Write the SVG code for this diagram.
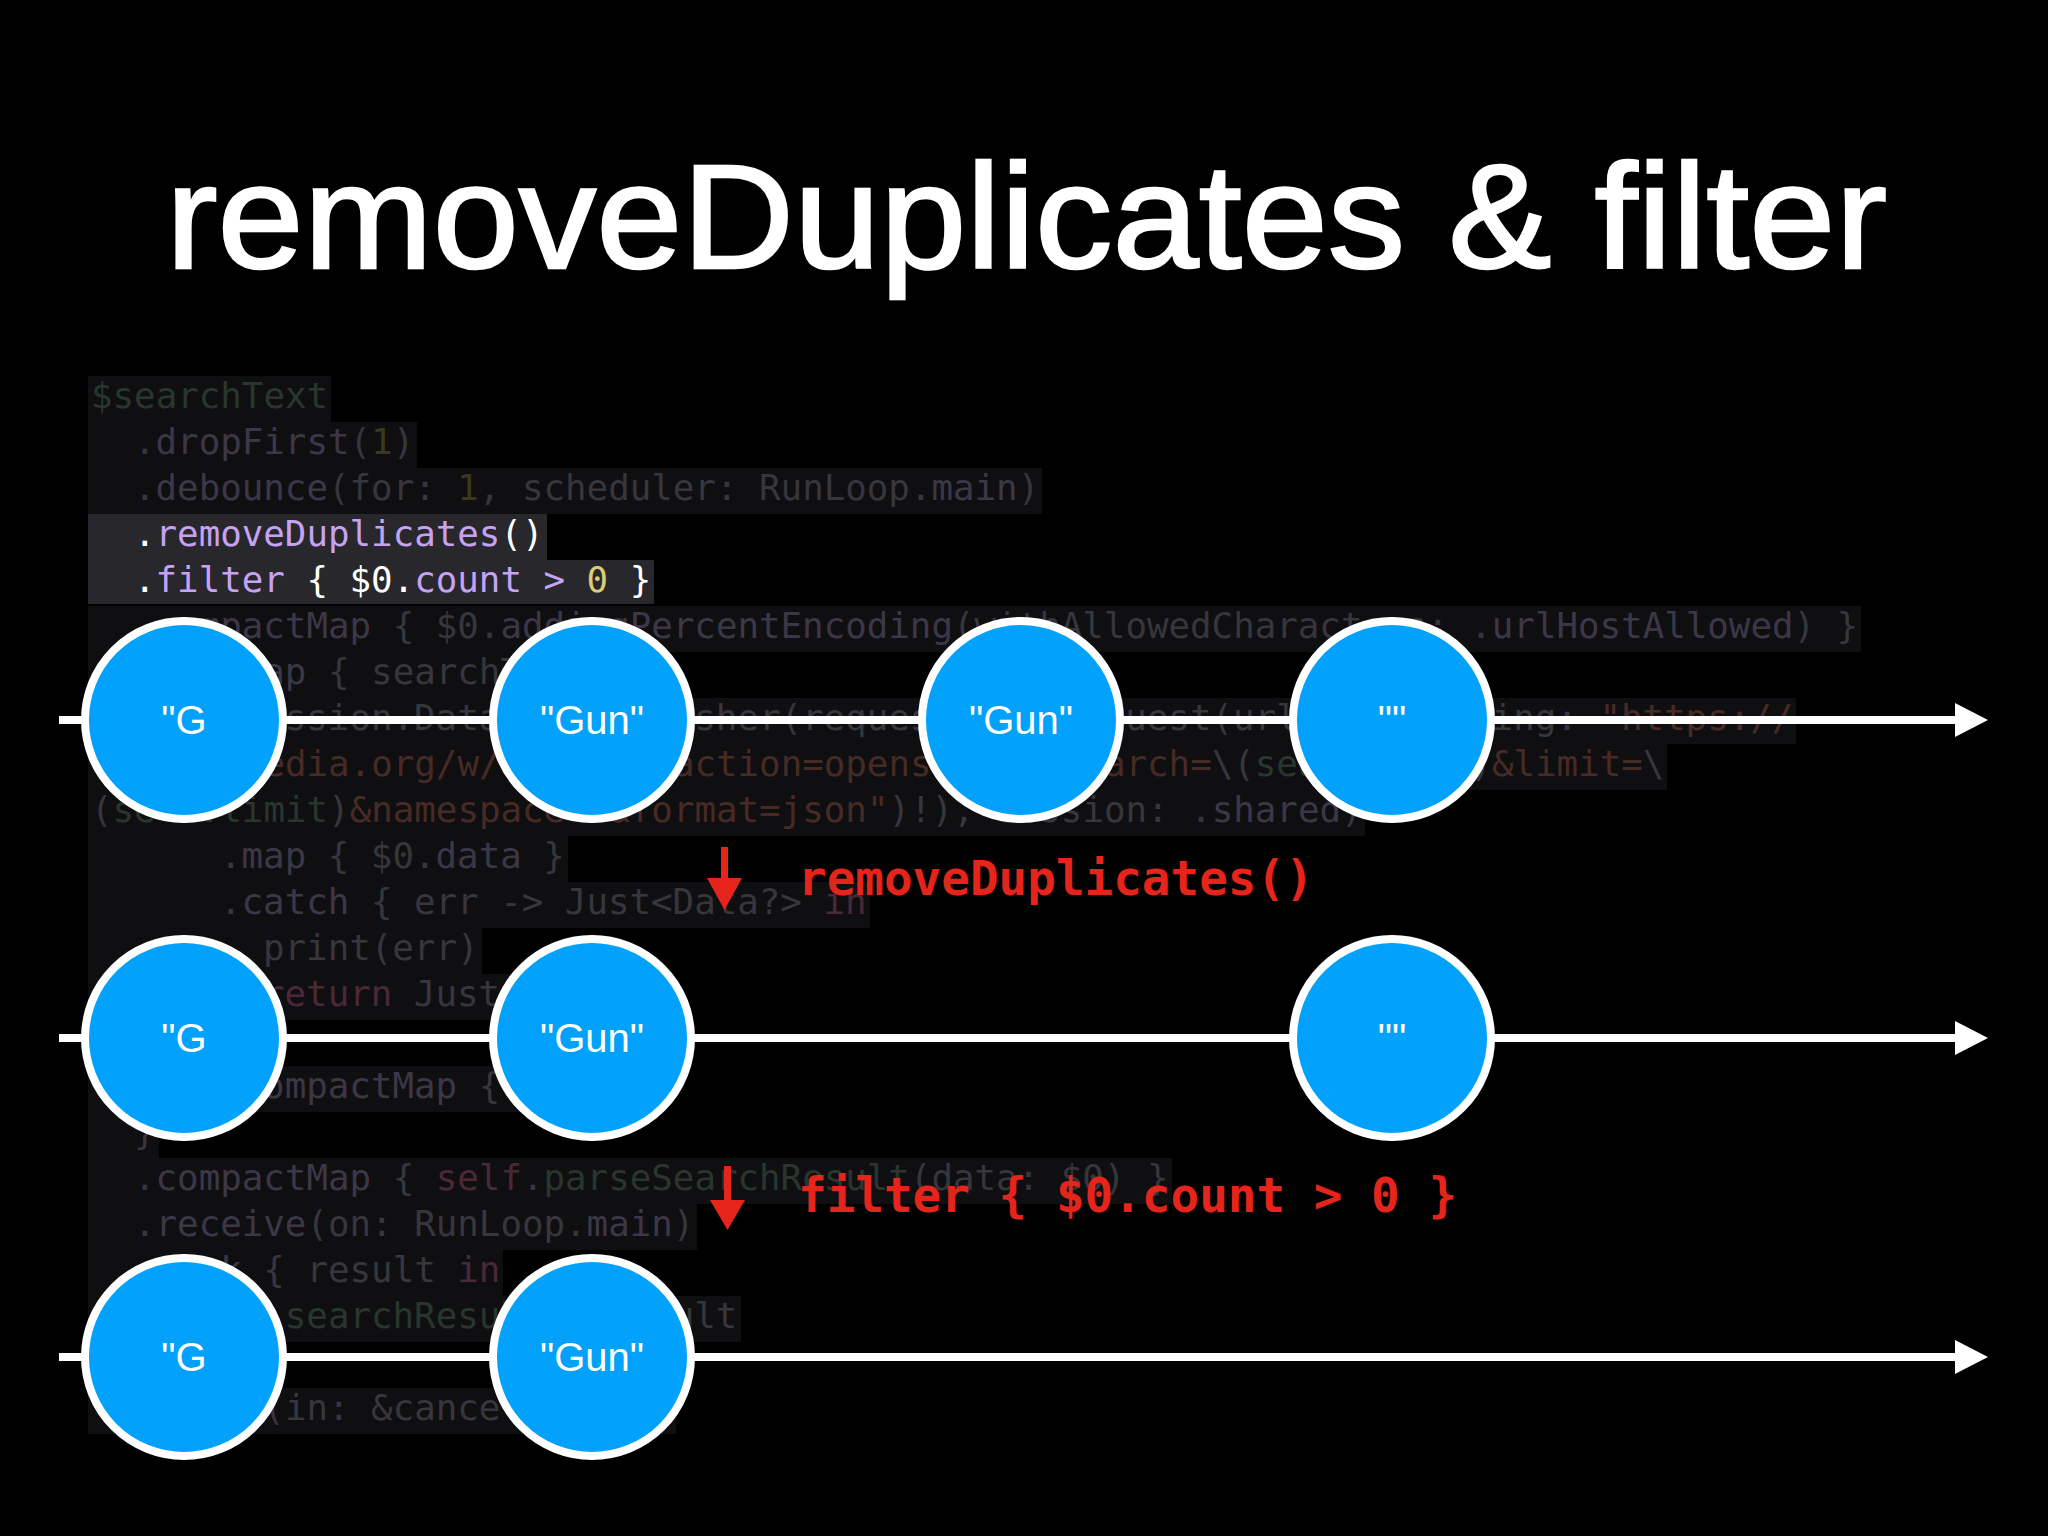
<svg xmlns="http://www.w3.org/2000/svg" width="2048" height="1536" viewBox="0 0 2048 1536">
<defs>
<style>
.title{font-family:"Liberation Sans",Arial,sans-serif;font-size:148px;fill:#fff;stroke:#fff;stroke-width:2.4px}
.code{font-family:"DejaVu Sans Mono",monospace;font-size:35.8px;fill:#36363c}
.d{fill:#3c3747}.n{fill:#3a381d}.s{fill:#482a25}.k{fill:#4a2836}.g{fill:#29362e}
.hw{fill:#fff}.hp{fill:#c6a3f2}.hy{fill:#dccb78}
.bg{fill:#0f0f11}.bgh{fill:#27272c}
.node circle{fill:#02a1fb;stroke:#fff;stroke-width:8}
.node text{font-family:"Liberation Sans",Arial,sans-serif;font-size:40px;fill:#fff;text-anchor:middle}
.timeline{stroke:#fff;stroke-width:8;fill:none;marker-end:url(#ah)}
.red{fill:#e5241b}
.redtxt{font-family:"DejaVu Sans Mono",monospace;font-weight:bold;font-size:47.6px;fill:#e5241b}
</style>
<marker id="ah" markerUnits="userSpaceOnUse" markerWidth="34" markerHeight="34" viewBox="0 0 33 34" refX="5" refY="17" orient="auto">
<path d="M0,0 L33,17 L0,34 Z" fill="#fff"/>
</marker>
</defs>
<rect width="2048" height="1536" fill="#000"/>
<text class="title" x="166" y="268" textLength="1721" lengthAdjust="spacingAndGlyphs">removeDuplicates &amp; filter</text>

<g id="code-bg">
<rect class="bg" x="88" y="376" width="243" height="46"/>
<rect class="bg" x="88" y="422" width="329" height="46"/>
<rect class="bg" x="88" y="468" width="954" height="46"/>
<rect class="bgh" x="88" y="514" width="459" height="46"/>
<rect class="bgh" x="88" y="560" width="566" height="44"/>
<rect class="bg" x="88" y="606" width="1773" height="46"/>
<rect class="bg" x="88" y="652" width="566" height="46"/>
<rect class="bg" x="88" y="698" width="1708" height="46"/>
<rect class="bg" x="88" y="744" width="1579" height="46"/>
<rect class="bg" x="88" y="790" width="1277" height="46"/>
<rect class="bg" x="88" y="836" width="480" height="46"/>
<rect class="bg" x="88" y="882" width="782" height="46"/>
<rect class="bg" x="88" y="928" width="394" height="46"/>
<rect class="bg" x="88" y="974" width="523" height="46"/>
<rect class="bg" x="88" y="1020" width="157" height="46"/>
<rect class="bg" x="88" y="1066" width="523" height="46"/>
<rect class="bg" x="88" y="1112" width="71" height="46"/>
<rect class="bg" x="88" y="1158" width="1084" height="46"/>
<rect class="bg" x="88" y="1204" width="609" height="46"/>
<rect class="bg" x="88" y="1250" width="415" height="46"/>
<rect class="bg" x="88" y="1296" width="653" height="46"/>
<rect class="bg" x="88" y="1342" width="71" height="46"/>
<rect class="bg" x="88" y="1388" width="588" height="46"/>
</g>

<g id="code" class="code" xml:space="preserve">
<text x="91" y="408"><tspan class="g">$searchText</tspan></text>
<text x="134" y="454">.<tspan class="d">dropFirst</tspan>(<tspan class="n">1</tspan>)</text>
<text x="134" y="500">.<tspan class="d">debounce</tspan>(for: <tspan class="n">1</tspan>, scheduler: RunLoop.<tspan class="d">main</tspan>)</text>
<text x="134" y="546"><tspan class="hw">.</tspan><tspan class="hp">removeDuplicates</tspan><tspan class="hw">()</tspan></text>
<text x="134" y="592"><tspan class="hw">.</tspan><tspan class="hp">filter</tspan><tspan class="hw"> { $0.</tspan><tspan class="hp">count &gt; </tspan><tspan class="hy">0</tspan><tspan class="hw"> }</tspan></text>
<text x="134" y="638">.<tspan class="d">compactMap</tspan> { $0.<tspan class="d">addingPercentEncoding</tspan>(withAllowedCharacters: .<tspan class="d">urlHostAllowed</tspan>) }</text>
<text x="134" y="684">.<tspan class="d">flatMap</tspan> { searchText <tspan class="k">in</tspan></text>
<text x="177" y="730">URLSession.DataTaskPublisher(request: URLRequest(url: URL(string: <tspan class="s">"https://</tspan></text>
<text x="91" y="776"><tspan class="s">en.wikipedia.org/w/api.php?action=opensearch&amp;search=</tspan>\(<tspan class="g">searchText</tspan>)<tspan class="s">&amp;limit=</tspan>\</text>
<text x="91" y="822">(<tspan class="g">self.limit</tspan>)<tspan class="s">&amp;namespace=0&amp;format=json"</tspan>)!), session: .<tspan class="d">shared</tspan>)</text>
<text x="220" y="868">.<tspan class="d">map</tspan> { $0.<tspan class="d">data</tspan> }</text>
<text x="220" y="914">.<tspan class="d">catch</tspan> { err -&gt; Just&lt;Data?&gt; <tspan class="k">in</tspan></text>
<text x="263" y="960">print(err)</text>
<text x="263" y="1006"><tspan class="k">return</tspan> Just(<tspan class="k">nil</tspan>)</text>
<text x="220" y="1052">}</text>
<text x="220" y="1098">.<tspan class="d">compactMap</tspan> { $0 }</text>
<text x="134" y="1144">}</text>
<text x="134" y="1190">.<tspan class="d">compactMap</tspan> { <tspan class="k">self</tspan>.<tspan class="g">parseSearchResult</tspan>(data: $0) }</text>
<text x="134" y="1236">.<tspan class="d">receive</tspan>(on: RunLoop.<tspan class="d">main</tspan>)</text>
<text x="134" y="1282">.<tspan class="d">sink</tspan> { result <tspan class="k">in</tspan></text>
<text x="177" y="1328"><tspan class="k">self</tspan>.<tspan class="g">searchResult</tspan> = result</text>
<text x="134" y="1374">}</text>
<text x="134" y="1420">.<tspan class="d">store</tspan>(in: &amp;cancellables)</text>
</g>

<g id="connectors">
<line class="timeline" x1="59" y1="720" x2="1960" y2="720"/>
<line class="timeline" x1="59" y1="1038" x2="1960" y2="1038"/>
<line class="timeline" x1="59" y1="1357" x2="1960" y2="1357"/>
</g>

<g id="annotations">
<g id="arrow-removeDuplicates">
<rect class="red" x="721" y="847" width="7" height="33"/>
<polygon class="red" points="707,878 742,878 724.5,910"/>
<text class="redtxt" x="798" y="895">removeDuplicates()</text>
</g>
<g id="arrow-filter">
<rect class="red" x="724" y="1166" width="7" height="36"/>
<polygon class="red" points="710,1200 745,1200 727.5,1230"/>
<text class="redtxt" x="798" y="1212">filter { $0.count &gt; 0 }</text>
</g>
</g>

<g id="row1">
<g id="r1-n1" class="node"><circle cx="184" cy="720" r="99"/><text x="184" y="734">"G</text></g>
<g id="r1-n2" class="node"><circle cx="592" cy="720" r="99"/><text x="592" y="734">"Gun"</text></g>
<g id="r1-n3" class="node"><circle cx="1021" cy="720" r="99"/><text x="1021" y="734">"Gun"</text></g>
<g id="r1-n4" class="node"><circle cx="1392" cy="720" r="99"/><text x="1392" y="734">""</text></g>
</g>
<g id="row2">
<g id="r2-n1" class="node"><circle cx="184" cy="1038" r="99"/><text x="184" y="1052">"G</text></g>
<g id="r2-n2" class="node"><circle cx="592" cy="1038" r="99"/><text x="592" y="1052">"Gun"</text></g>
<g id="r2-n4" class="node"><circle cx="1392" cy="1038" r="99"/><text x="1392" y="1052">""</text></g>
</g>
<g id="row3">
<g id="r3-n1" class="node"><circle cx="184" cy="1357" r="99"/><text x="184" y="1371">"G</text></g>
<g id="r3-n2" class="node"><circle cx="592" cy="1357" r="99"/><text x="592" y="1371">"Gun"</text></g>
</g>
</svg>
